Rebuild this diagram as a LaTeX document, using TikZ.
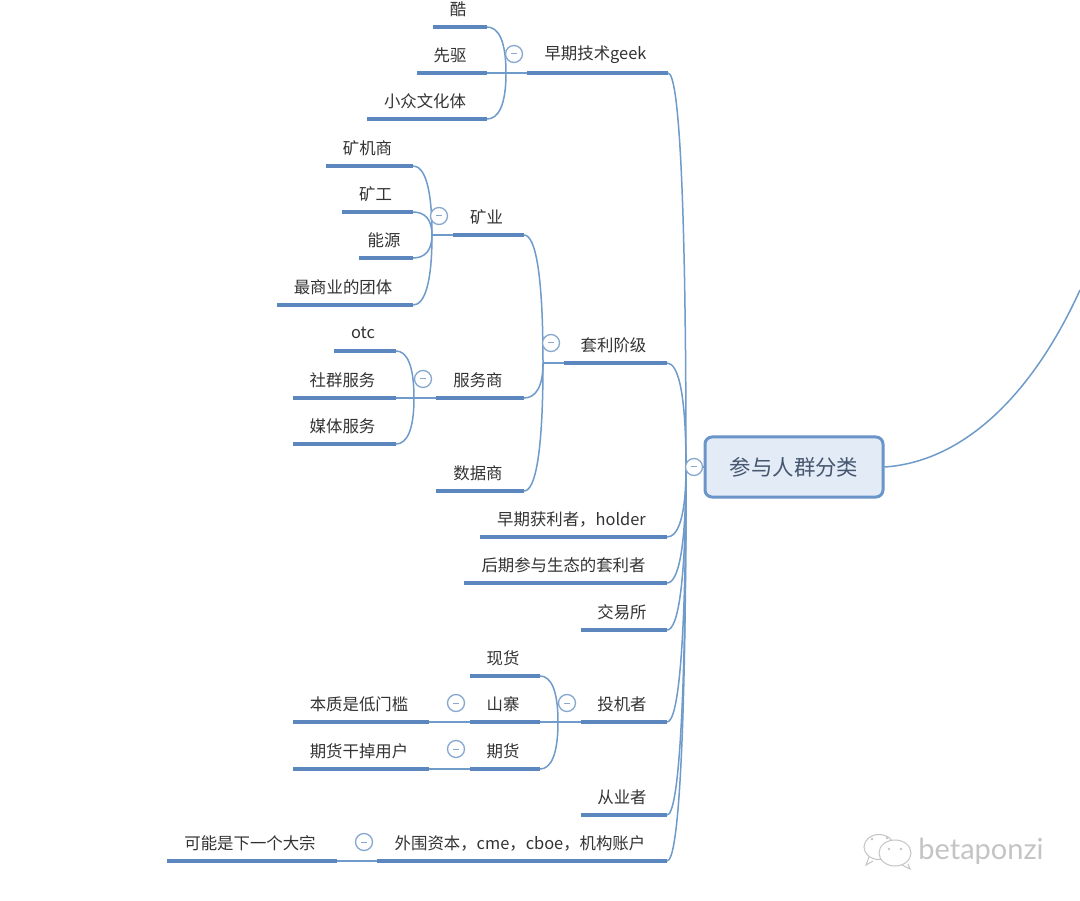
\documentclass[tikz,border=0pt]{standalone}
\usepackage{fontspec}
\setmainfont{Noto Sans CJK SC}
\newfontfamily\markfont{Lato}
\usetikzlibrary{calc}
\definecolor{barblue}{HTML}{5B86BE}
\definecolor{linkblue}{HTML}{6F9BCB}
\definecolor{rootfill}{HTML}{E3EBF7}
\definecolor{rootedge}{HTML}{6A95C8}
\definecolor{roottext}{HTML}{45566E}
\definecolor{toggleblue}{HTML}{86A8CF}
\definecolor{inktext}{HTML}{333333}
\definecolor{markgray}{HTML}{C4C4C4}
\tikzset{
  topic/.style={inner sep=0pt,outer sep=0pt,minimum height=36pt,anchor=south west,
    text=inktext,font=\fontsize{16.4}{18}\selectfont},
  barline/.style={draw=barblue,line width=4pt},
  link/.style={draw=linkblue,line width=1.5pt},
  rootbox/.style={draw=rootedge,fill=rootfill,line width=3pt,rounded corners=7pt,
    minimum width=178pt,minimum height=60pt,inner sep=0pt,text=roottext,
    font=\fontsize{21.4}{24}\selectfont},
  toggle/.style={circle,draw=toggleblue,fill=white,line width=1.3pt,minimum size=17pt,inner sep=0pt},
  markbubble/.style={draw=markgray,fill=white,line width=1pt},
}
\newcommand{\topicbar}[5]{%
  \pgfmathsetmacro{\barw}{#3-#2}%
  \node[topic,minimum width=\barw pt] (#1) at (#2,#4) {#5\hspace*{4pt}};
  \draw[barline] (#1.south west) -- (#1.south east);
}
\newcommand{\curvelink}[2]{%
  \draw[link] (#1.south east) .. controls ($(#1.south east)!0.6!(#2|-#1.south east)$)
    and ($(#2)!0.7!(#2|-#1.south east)$) .. (#2);
}
\newcommand{\togglemark}[3]{%
  \node[toggle] (#1) at (#2,#3) {\textcolor{toggleblue}{\rule{6pt}{1pt}}};
}
\begin{document}
\begin{tikzpicture}[x=1pt,y=-1pt]
\useasboundingbox (0,0) rectangle (1080,901);
\fill[white] (0,0) rectangle (1080,901);

\coordinate (Jroot) at (686,467);
\coordinate (Jgeek) at (506,73);
\coordinate (Jmine) at (432,235);
\coordinate (Jserv) at (414,398);
\coordinate (Jarb) at (543,363);
\coordinate (Jspec) at (558,722);
\coordinate (Rfar) at (1080,290);

\node[rootbox] (root) at (794,467) {参与人群分类};

\topicbar{ku}{433}{487}{27}{酷}
\topicbar{xq}{417}{487}{73}{先驱}
\topicbar{xz}{367}{487}{119}{小众文化体}
\topicbar{geek}{527}{668}{73}{早期技术geek}
\topicbar{kjs}{326}{413}{166}{矿机商}
\topicbar{kg}{342}{413}{212}{矿工}
\topicbar{ny}{359}{413}{258}{能源}
\topicbar{zsy}{277}{413}{305}{最商业的团体}
\topicbar{ky}{453}{524}{235}{矿业}
\topicbar{otc}{334}{396}{351}{otc}
\topicbar{sq}{293}{396}{398}{社群服务}
\topicbar{mt}{293}{396}{444}{媒体服务}
\topicbar{fws}{436}{524}{398}{服务商}
\topicbar{sjs}{436}{524}{491}{数据商}
\topicbar{tl}{564}{667}{363}{套利阶级}
\topicbar{hold}{480}{667}{537}{早期获利者，holder}
\topicbar{hq}{464}{667}{583}{后期参与生态的套利者}
\topicbar{jys}{581}{667}{630}{交易所}
\topicbar{xh}{470}{540}{676}{现货}
\topicbar{sz}{470}{540}{722}{山寨}
\topicbar{qh}{470}{540}{769}{期货}
\topicbar{tj}{581}{667}{722}{投机者}
\topicbar{bz}{293}{429}{722}{本质是低门槛}
\topicbar{qg}{293}{429}{769}{期货干掉用户}
\topicbar{cy}{581}{667}{815}{从业者}
\topicbar{ww}{377}{667}{861}{外围资本，cme，cboe，机构账户}
\topicbar{dz}{167}{337}{861}{可能是下一个大宗}

% root links
\foreach \c in {geek,tl,hold,hq,jys,tj,cy,ww}{\curvelink{\c}{Jroot}}
\draw[link] (Jroot) -- (root.west);
\draw[link] (root.east) .. controls (960,462) and (1030,400) .. (Rfar);

% geek group
\curvelink{ku}{Jgeek}
\curvelink{xz}{Jgeek}
\draw[link] (xq.south east) -- (geek.south west);
% mining group
\foreach \c in {kjs,kg,ny,zsy}{\curvelink{\c}{Jmine}}
\draw[link] (Jmine) -- (ky.south west);
% services group
\curvelink{otc}{Jserv}
\curvelink{mt}{Jserv}
\draw[link] (sq.south east) -- (fws.south west);
% arbitrage group
\foreach \c in {ky,fws,sjs}{\curvelink{\c}{Jarb}}
\draw[link] (Jarb) -- (tl.south west);
% speculators group
\curvelink{xh}{Jspec}
\curvelink{qh}{Jspec}
\draw[link] (sz.south east) -- (tj.south west);
\draw[link] (bz.south east) -- (sz.south west);
\draw[link] (qg.south east) -- (qh.south west);
\draw[link] (dz.south east) -- (ww.south west);

\togglemark{t1}{514}{54}
\togglemark{t2}{439}{216}
\togglemark{t3}{551}{343}
\togglemark{t4}{423}{379}
\togglemark{t5}{694}{467}
\togglemark{t6}{456}{703}
\togglemark{t7}{567}{703}
\togglemark{t8}{456}{749}
\togglemark{t9}{364}{842}

% watermark
\draw[markbubble] (873,861) -- (866,865) -- (869,857);
\draw[markbubble] (879,847) ellipse [x radius=15,y radius=12.5];
\draw[markbubble] (908,864) -- (910,869) -- (902,865);
\draw[markbubble] (895,853) ellipse [x radius=16,y radius=13];
\foreach \ex/\ey in {872/839,887/838,889/849,901/849}{\fill[markgray] (\ex,\ey) circle (1.4);}
\node[text=markgray,font=\markfont\fontsize{29}{30}\selectfont,inner sep=0pt,anchor=center] (wm) at (981,851) {betaponzi};
\end{tikzpicture}
\end{document}
